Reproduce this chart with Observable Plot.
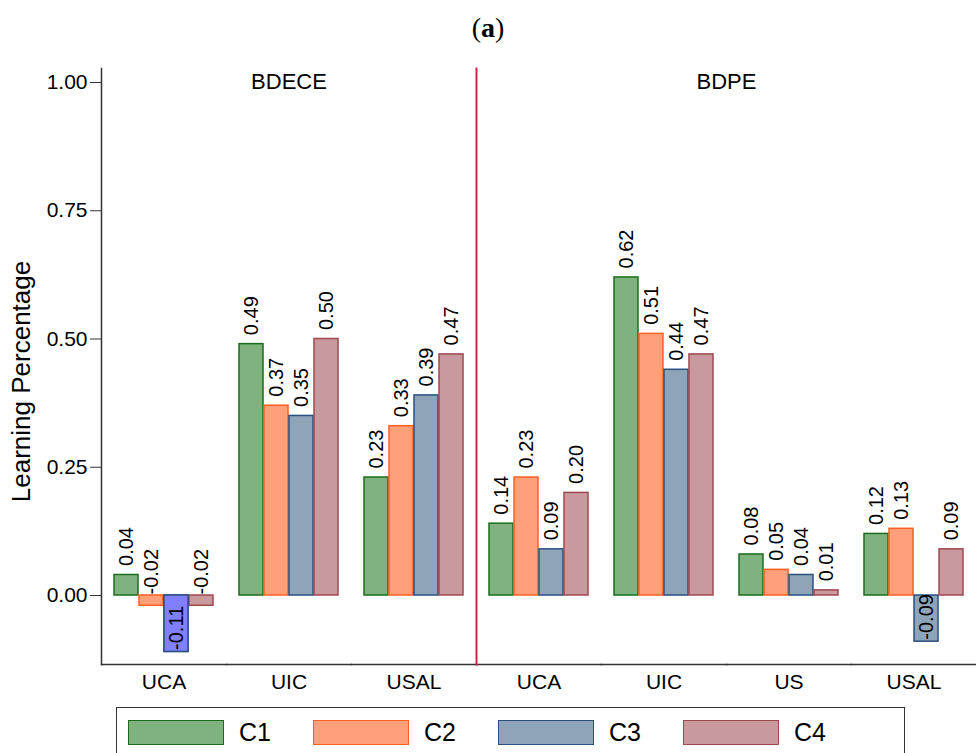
<!DOCTYPE html>
<html>
<head>
<meta charset="utf-8">
<script src="https://cdn.jsdelivr.net/npm/d3@7"></script>
<script src="https://cdn.jsdelivr.net/npm/@observablehq/plot@0.6"></script>
<style>
  body { margin: 0; background: #fff; font-family: 'Liberation Sans', Arial, sans-serif; }
  #title { height: 50px; text-align: center; font-family: 'Liberation Serif', serif; font-size: 28px; line-height: 56px; color: #000; }
  #chart svg { display: block; }
  #legend { margin-left: 116px; margin-top: 7px; width: 789px; height: 60px; border: 1.5px solid #333; border-bottom: none;
            box-sizing: border-box; display: flex; padding-left: 11px; padding-top: 11px; }
  .item { display: flex; align-items: center; width: 185px; height: 26px; }
  .sw { width: 94px; height: 23px; border: 1.5px solid; margin-right: 15px; }
  .lab { font-size: 25px; color: #000; }
</style>
</head>
<body>
<div id="title">(<b>a</b>)</div>
<div id="chart"></div>
<div id="legend"></div>
<script>
// ---- data ----
const series = ["C1", "C2", "C3", "C4"];
const datasets = ["BDECE", "BDPE"];
const bdeceUniversities = ["UCA", "UIC", "USAL"];
const bdpeUniversities = ["UCA", "UIC", "US", "USAL"];
const bdeceValues = [
  [0.04, -0.02, -0.11, -0.02],
  [0.49, 0.37, 0.35, 0.50],
  [0.23, 0.33, 0.39, 0.47]
];
const bdpeValues = [
  [0.14, 0.23, 0.09, 0.20],
  [0.62, 0.51, 0.44, 0.47],
  [0.08, 0.05, 0.04, 0.01],
  [0.12, 0.13, -0.09, 0.09]
];
const yTicks = [0, 0.25, 0.5, 0.75, 1];
const yLabel = "Learning Percentage";
const highlighted = [["BDECE", "UCA", "C3"]];

// ---- styles ----
const fillColors = ["#80b280", "#ffa07a", "#8ea4b8", "#c89a9d"];
const strokeColors = ["#1a6e1a", "#ff6020", "#2a5080", "#a04850"];
const highlightFill = "#8080ff";
const dividerColor = "#d81e4e";
const axisColor = "#333";

// ---- table ----
const universities = [bdeceUniversities, bdpeUniversities];
const valuesBy = [bdeceValues, bdpeValues];
const rows = [];
datasets.forEach((ds, di) =>
  universities[di].forEach((u, ui) =>
    series.forEach((s, si) =>
      rows.push({dataset: ds, univ: u, group: ds + "|" + u, series: s, value: valuesBy[di][ui][si]}))));
const groups = Array.from(new Set(rows.map(r => r.group)));
const isHighlighted = r => highlighted.some(([d, u, s]) => r.dataset === d && r.univ === u && r.series === s);
const fmt = d3.format(".2f");
const barFmt = v => v.toFixed(2);

// facet (dataset) labels: centered over the dataset's groups
const datasetLabelMarks = datasets.map((ds, di) => {
  const gs = groups.filter(g => g.startsWith(ds + "|"));
  const n = gs.length;
  const odd = n % 2 === 1;
  const key = odd ? gs[(n - 1) / 2] : gs[n / 2 - 1];
  return Plot.text([ds], {fx: () => key, frameAnchor: odd ? "top" : "top-right", textAnchor: "middle",
    lineAnchor: "top", dy: 5, fontSize: 22});
});

const common = {fx: "group", x: "series", y: "value"};

const chart = Plot.plot({
  width: 976,
  height: 650,
  marginLeft: 100,
  marginRight: 0,
  marginTop: 18,
  marginBottom: 36,
  style: {fontFamily: "'Liberation Sans', Arial, sans-serif", color: "#000", background: "#fff"},
  fx: {domain: groups, padding: 0},
  x: {domain: series, paddingInner: 0.05, paddingOuter: 0.5, axis: null},
  y: {domain: [-0.1345, 1.0273]},
  marks: [
    Plot.axisY({ticks: yTicks, tickFormat: fmt, tickSize: 11, tickPadding: 3, fontSize: 21, label: null, stroke: axisColor}),
    Plot.axisFx({anchor: "bottom", tickSize: 0, tickPadding: 10, fontSize: 21, label: null,
      tickFormat: g => g.split("|")[1]}),
    Plot.text([yLabel], {fx: () => groups[0], frameAnchor: "left", textAnchor: "middle", rotate: -90,
      dx: -80, dy: 15, fontSize: 26}),
    ...series.map((s, i) => Plot.barY(rows.filter(r => r.series === s),
      {...common, fill: fillColors[i], stroke: strokeColors[i], strokeWidth: 1.5})),
    ...series.map((s, i) => Plot.barY(rows.filter(r => r.series === s && isHighlighted(r)),
      {...common, fill: highlightFill, stroke: strokeColors[i], strokeWidth: 1.5})),
    Plot.text(rows.filter(r => r.value >= 0),
      {...common, text: d => barFmt(d.value), rotate: -90, textAnchor: "start", dy: -9, fontSize: 20}),
    Plot.text(rows.filter(r => r.value < 0 && r.value >= -0.05),
      {...common, y: () => 0, text: d => barFmt(d.value), rotate: -90, textAnchor: "start", dy: -1, fontSize: 20}),
    Plot.text(rows.filter(r => r.value < -0.05),
      {...common, text: d => barFmt(d.value), rotate: -90, textAnchor: "start", dy: -2, fontSize: 20}),
    ...datasetLabelMarks,
    Plot.frame({anchor: "bottom", stroke: axisColor, strokeWidth: 1.5}),
    Plot.frame({anchor: "left", stroke: axisColor, strokeWidth: 1.5, fx: () => groups[0]}),
    Plot.frame({anchor: "left", stroke: dividerColor, strokeWidth: 2, fx: () => groups[bdeceUniversities.length]})
  ]
});
document.getElementById("chart").append(chart);

// ---- legend ----
const legend = document.getElementById("legend");
series.forEach((s, i) => {
  const item = document.createElement("div");
  item.className = "item";
  const sw = document.createElement("div");
  sw.className = "sw";
  sw.style.background = fillColors[i];
  sw.style.borderColor = strokeColors[i];
  const lab = document.createElement("span");
  lab.className = "lab";
  lab.textContent = s;
  item.append(sw, lab);
  legend.append(item);
});
</script>
</body>
</html>
